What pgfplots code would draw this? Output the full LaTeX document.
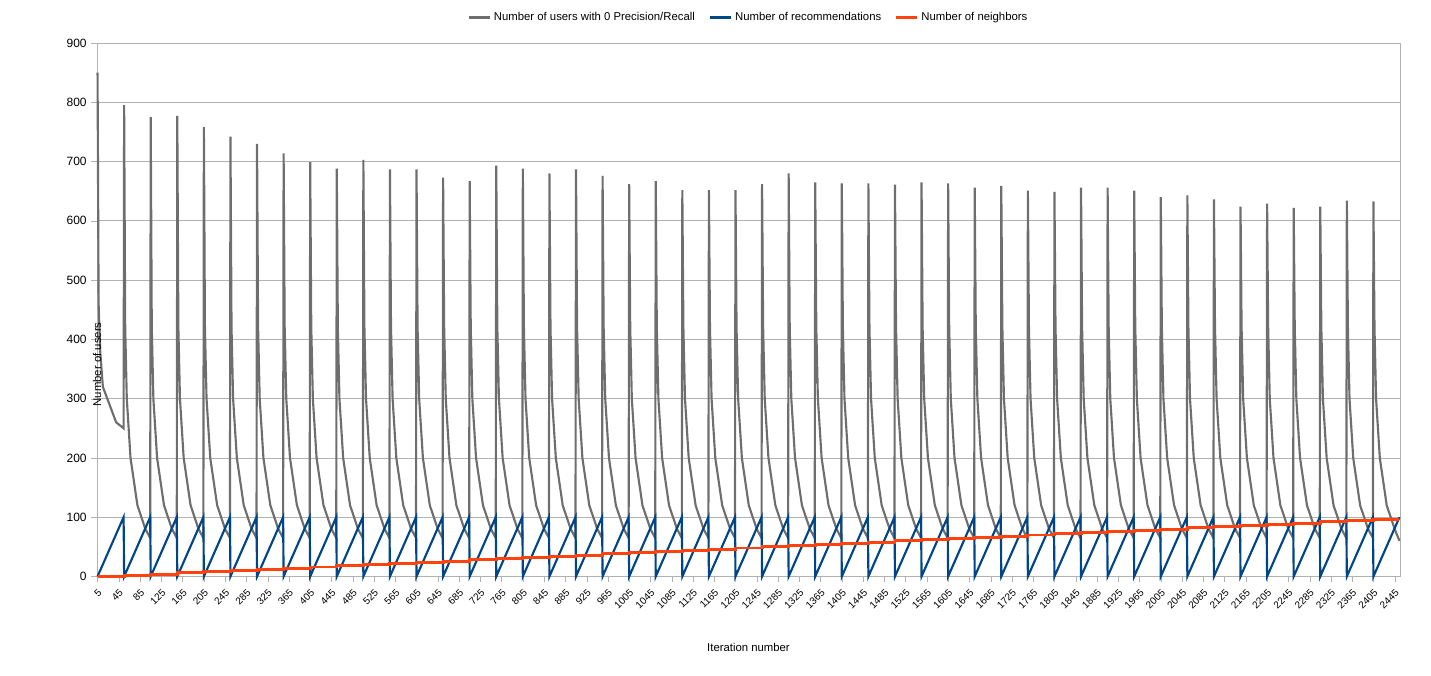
\documentclass[border=0pt]{standalone}
\usepackage{pgfplots}
\pgfplotsset{compat=1.18}
\usepackage{fontspec}
\setmainfont{Liberation Sans}
\begin{document}
\begin{tikzpicture}
\begin{axis}[
  width=977pt, height=400pt, scale only axis, clip=false,
  xmin=4, xmax=2455, ymin=0, ymax=900,
  ytick={0,100,...,900},
  xtick={5,45,...,2445},
  x tick label style={rotate=45, anchor=north east, font=\fontsize{7.5}{9}\selectfont},
  y tick label style={font=\fontsize{9}{10}\selectfont},
  /pgf/number format/assume math mode=true,
  /pgf/number format/1000 sep={},
  scaled ticks=false,
  ymajorgrids, grid style={gray!60, line width=0.5pt},
  axis line style={gray!60}, major tick style={gray!60},
  tick align=outside, xtick pos=bottom, ytick pos=left,
  xlabel={Iteration number}, ylabel={Number of users},
  label style={font=\fontsize{8.5}{10}\selectfont},
  xlabel style={at={(axis description cs:0.5,0)}, anchor=center, yshift=-53pt},
  ylabel style={at={(axis description cs:0,0.5)}, anchor=center, xshift=-41pt},
  legend style={at={(0.5,1)}, anchor=center, yshift=19pt, draw=none, legend columns=3,
    font=\fontsize{8.5}{10}\selectfont, /tikz/every even column/.append style={column sep=8pt}},
  legend image code/.code={\draw[#1, line width=2.5pt] (0cm,0cm) -- (0.55cm,0cm);},
]
\path (rel axis cs:0,0) ++(-72.75pt,-74.25pt) coordinate (bbA);
\path (rel axis cs:1,1) ++(23.25pt,32.25pt) coordinate (bbB);
\addplot[color={rgb,255:red,110;green,110;blue,110}, line width=1.6pt] coordinates {
(5,850)(7,460)(10,380)(15,320)(40,260)(54,250)
(55,795)(57,420)(60,300)(67,200)(80,120)(95,80)(104,65)
(105,775)(107,420)(110,300)(117,200)(130,120)(145,80)(154,65)
(155,777)(157,420)(160,300)(167,200)(180,120)(195,80)(204,65)
(205,758)(207,420)(210,300)(217,200)(230,120)(245,80)(254,65)
(255,742)(257,420)(260,300)(267,200)(280,120)(295,80)(304,65)
(305,730)(307,420)(310,300)(317,200)(330,120)(345,80)(354,65)
(355,714)(357,420)(360,300)(367,200)(380,120)(395,80)(404,65)
(405,699)(407,420)(410,300)(417,200)(430,120)(445,80)(454,65)
(455,688)(457,420)(460,300)(467,200)(480,120)(495,80)(504,65)
(505,703)(507,420)(510,300)(517,200)(530,120)(545,80)(554,65)
(555,687)(557,420)(560,300)(567,200)(580,120)(595,80)(604,65)
(605,687)(607,420)(610,300)(617,200)(630,120)(645,80)(654,65)
(655,673)(657,420)(660,300)(667,200)(680,120)(695,80)(704,65)
(705,667)(707,420)(710,300)(717,200)(730,120)(745,80)(754,65)
(755,693)(757,420)(760,300)(767,200)(780,120)(795,80)(804,65)
(805,688)(807,420)(810,300)(817,200)(830,120)(845,80)(854,65)
(855,680)(857,420)(860,300)(867,200)(880,120)(895,80)(904,65)
(905,687)(907,420)(910,300)(917,200)(930,120)(945,80)(954,65)
(955,676)(957,420)(960,300)(967,200)(980,120)(995,80)(1004,65)
(1005,662)(1007,420)(1010,300)(1017,200)(1030,120)(1045,80)(1054,65)
(1055,667)(1057,420)(1060,300)(1067,200)(1080,120)(1095,80)(1104,65)
(1105,652)(1107,420)(1110,300)(1117,200)(1130,120)(1145,80)(1154,65)
(1155,652)(1157,420)(1160,300)(1167,200)(1180,120)(1195,80)(1204,65)
(1205,652)(1207,420)(1210,300)(1217,200)(1230,120)(1245,80)(1254,65)
(1255,662)(1257,420)(1260,300)(1267,200)(1280,120)(1295,80)(1304,65)
(1305,680)(1307,420)(1310,300)(1317,200)(1330,120)(1345,80)(1354,65)
(1355,665)(1357,420)(1360,300)(1367,200)(1380,120)(1395,80)(1404,65)
(1405,663)(1407,420)(1410,300)(1417,200)(1430,120)(1445,80)(1454,65)
(1455,663)(1457,420)(1460,300)(1467,200)(1480,120)(1495,80)(1504,65)
(1505,661)(1507,420)(1510,300)(1517,200)(1530,120)(1545,80)(1554,65)
(1555,665)(1557,420)(1560,300)(1567,200)(1580,120)(1595,80)(1604,65)
(1605,663)(1607,420)(1610,300)(1617,200)(1630,120)(1645,80)(1654,65)
(1655,656)(1657,420)(1660,300)(1667,200)(1680,120)(1695,80)(1704,65)
(1705,659)(1707,420)(1710,300)(1717,200)(1730,120)(1745,80)(1754,65)
(1755,651)(1757,420)(1760,300)(1767,200)(1780,120)(1795,80)(1804,65)
(1805,649)(1807,420)(1810,300)(1817,200)(1830,120)(1845,80)(1854,65)
(1855,656)(1857,420)(1860,300)(1867,200)(1880,120)(1895,80)(1904,65)
(1905,656)(1907,420)(1910,300)(1917,200)(1930,120)(1945,80)(1954,65)
(1955,651)(1957,420)(1960,300)(1967,200)(1980,120)(1995,80)(2004,65)
(2005,640)(2007,420)(2010,300)(2017,200)(2030,120)(2045,80)(2054,65)
(2055,643)(2057,420)(2060,300)(2067,200)(2080,120)(2095,80)(2104,65)
(2105,636)(2107,420)(2110,300)(2117,200)(2130,120)(2145,80)(2154,65)
(2155,624)(2157,420)(2160,300)(2167,200)(2180,120)(2195,80)(2204,65)
(2205,629)(2207,420)(2210,300)(2217,200)(2230,120)(2245,80)(2254,65)
(2255,622)(2257,420)(2260,300)(2267,200)(2280,120)(2295,80)(2304,65)
(2305,624)(2307,420)(2310,300)(2317,200)(2330,120)(2345,80)(2354,65)
(2355,634)(2357,420)(2360,300)(2367,200)(2380,120)(2395,80)(2404,65)
(2405,633)(2407,420)(2410,300)(2417,200)(2430,120)(2445,80)(2454,60)
};
\addlegendentry{Number of users with 0 Precision/Recall}
\addplot[color={rgb,255:red,0;green,69;blue,134}, line width=1.6pt] coordinates {
(5,0)(54,100)(55,0)(104,100)(105,0)(154,100)(155,0)(204,100)(205,0)(254,100)
(255,0)(304,100)(305,0)(354,100)(355,0)(404,100)(405,0)(454,100)(455,0)(504,100)
(505,0)(554,100)(555,0)(604,100)(605,0)(654,100)(655,0)(704,100)(705,0)(754,100)
(755,0)(804,100)(805,0)(854,100)(855,0)(904,100)(905,0)(954,100)(955,0)(1004,100)
(1005,0)(1054,100)(1055,0)(1104,100)(1105,0)(1154,100)(1155,0)(1204,100)(1205,0)(1254,100)
(1255,0)(1304,100)(1305,0)(1354,100)(1355,0)(1404,100)(1405,0)(1454,100)(1455,0)(1504,100)
(1505,0)(1554,100)(1555,0)(1604,100)(1605,0)(1654,100)(1655,0)(1704,100)(1705,0)(1754,100)
(1755,0)(1804,100)(1805,0)(1854,100)(1855,0)(1904,100)(1905,0)(1954,100)(1955,0)(2004,100)
(2005,0)(2054,100)(2055,0)(2104,100)(2105,0)(2154,100)(2155,0)(2204,100)(2205,0)(2254,100)
(2255,0)(2304,100)(2305,0)(2354,100)(2355,0)(2404,100)(2405,0)(2454,100)
};
\addlegendentry{Number of recommendations}
\addplot[color={rgb,255:red,255;green,66;blue,14}, line width=2.2pt, const plot] coordinates {
(5,0)(55,2)(105,4)(155,6)(205,8)(255,10)(305,12)(355,14)(405,16)(455,18)
(505,20)(555,22)(605,24)(655,26)(705,28)(755,30)(805,32)(855,34)(905,36)(955,38)
(1005,40)(1055,42)(1105,44)(1155,46)(1205,48)(1255,50)(1305,52)(1355,54)(1405,56)(1455,58)
(1505,60)(1555,62)(1605,64)(1655,66)(1705,68)(1755,70)(1805,72)(1855,74)(1905,76)(1955,78)
(2005,80)(2055,82)(2105,84)(2155,86)(2205,88)(2255,90)(2305,92)(2355,94)(2405,96)(2454,96)
};
\addlegendentry{Number of neighbors}
\end{axis}
\path (bbA) rectangle (bbB);
\end{tikzpicture}
\end{document}
